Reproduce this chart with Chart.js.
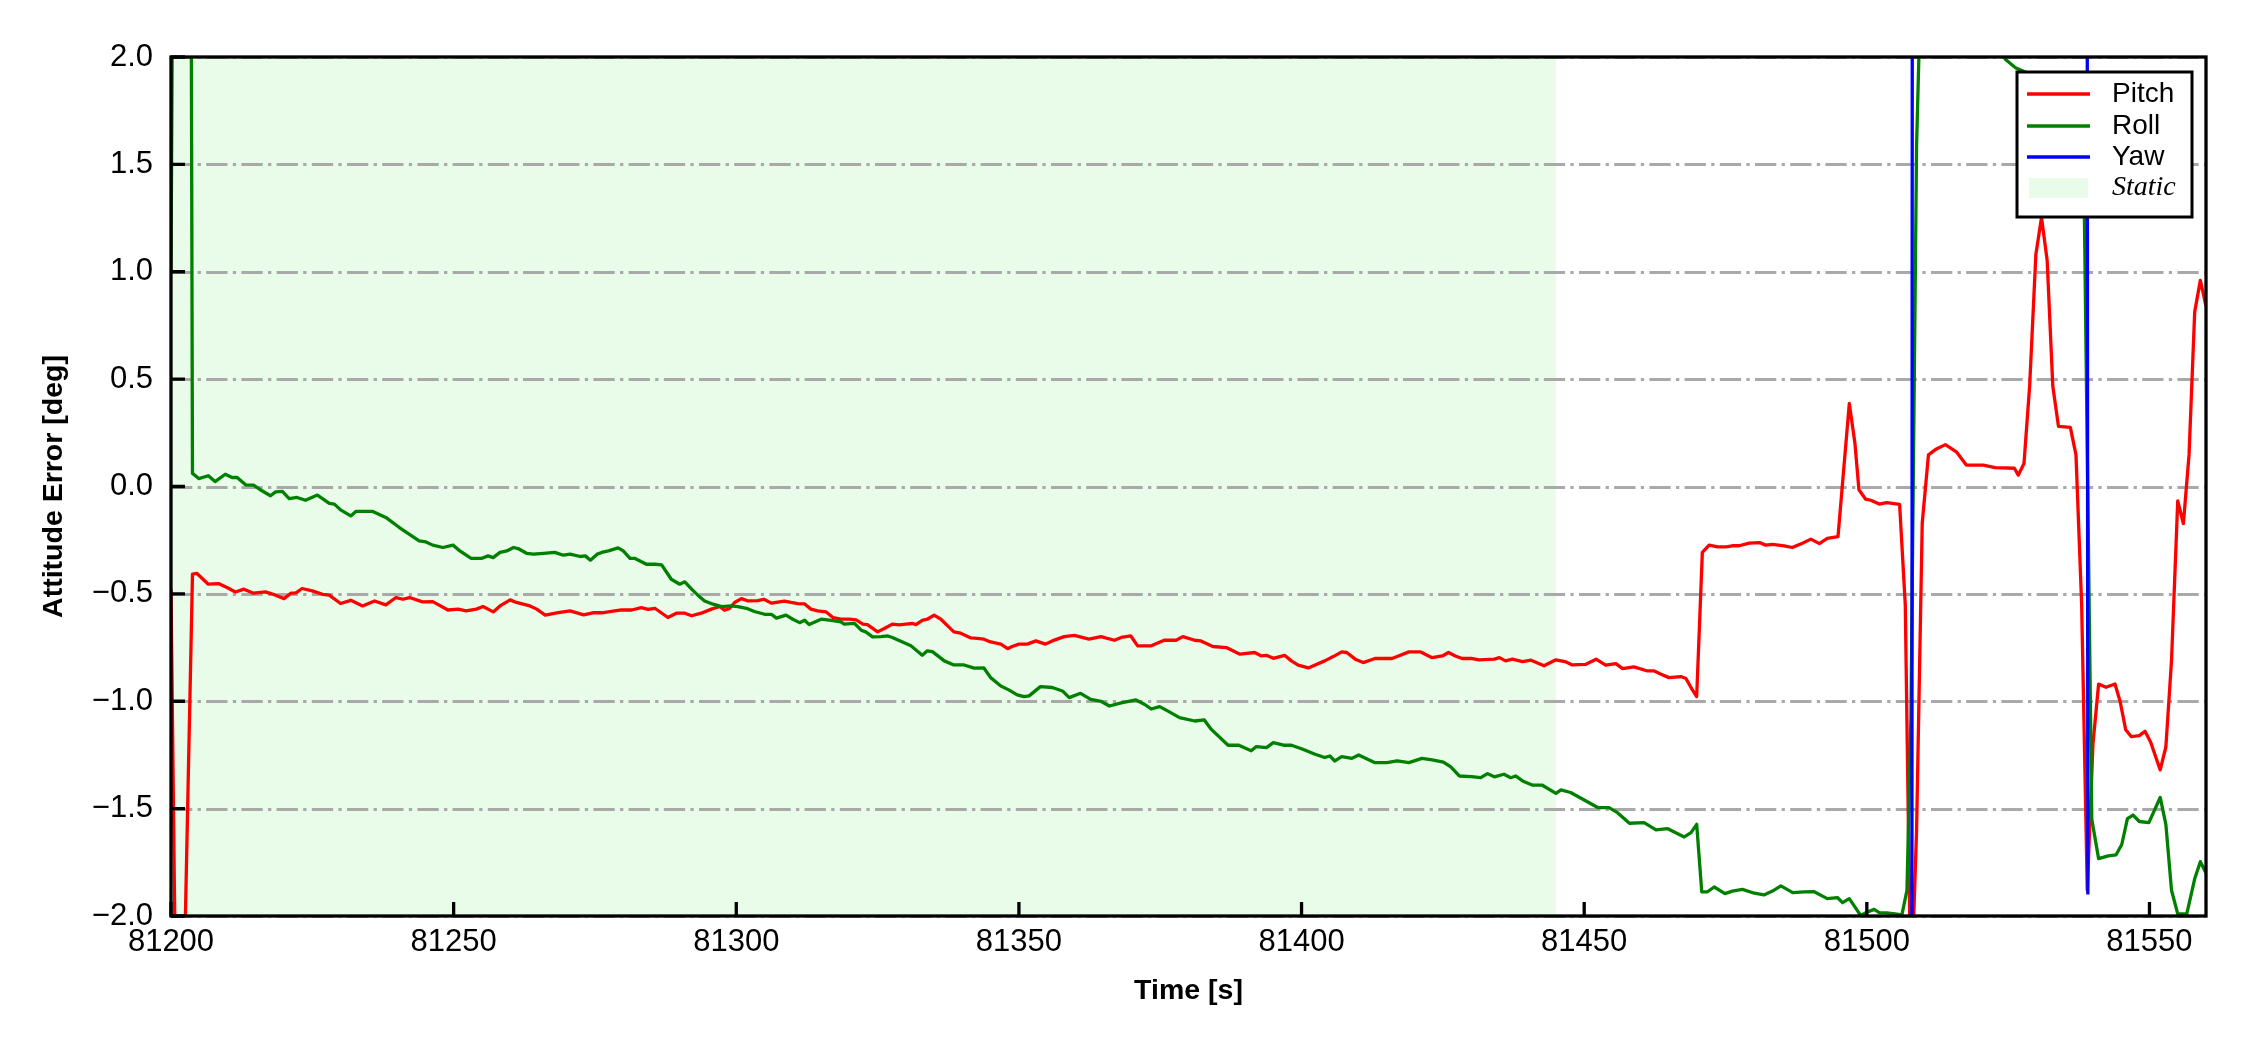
<!DOCTYPE html>
<html>
<head>
<meta charset="utf-8">
<title>Attitude Error</title>
<script src="https://cdn.jsdelivr.net/npm/chart.js@4.4.1/dist/chart.umd.min.js"></script>
<style>
  html, body { margin: 0; padding: 0; background: #fff; }
  #wrap { width: 2250px; height: 1050px; position: relative; }
</style>
</head>
<body>
<div id="wrap"><canvas id="attitudeChart"></canvas></div>
<script>
// time [s], error [deg]
const pitch = [
  [81200.0, -0.48], [81201.0, -2.8], [81202.0, -2.7], [81203.8, -0.408], [81204.6, -0.405], [81205.2, -0.42],
  [81206.6, -0.455], [81208.4, -0.452], [81209.9, -0.47], [81211.4, -0.491], [81212.9, -0.478], [81214.6, -0.497],
  [81216.7, -0.491], [81218.5, -0.506], [81220.0, -0.522], [81221.2, -0.497], [81222.1, -0.495], [81223.2, -0.475],
  [81225.0, -0.486], [81226.8, -0.502], [81228.0, -0.506], [81230.0, -0.545], [81231.8, -0.53], [81233.9, -0.556],
  [81236.0, -0.533], [81238.0, -0.551], [81239.8, -0.517], [81241.0, -0.525], [81242.2, -0.517], [81244.5, -0.537],
  [81246.3, -0.536], [81249.0, -0.575], [81250.8, -0.571], [81252.2, -0.579], [81254.0, -0.571], [81255.2, -0.559],
  [81257.0, -0.584], [81258.2, -0.556], [81260.0, -0.528], [81261.1, -0.54], [81263.5, -0.556], [81264.7, -0.571],
  [81266.2, -0.599], [81268.5, -0.587], [81270.6, -0.579], [81273.0, -0.598], [81274.8, -0.587], [81276.2, -0.588],
  [81277.9, -0.582], [81279.7, -0.575], [81281.5, -0.575], [81283.2, -0.564], [81284.4, -0.572], [81285.6, -0.567],
  [81287.9, -0.61], [81289.4, -0.59], [81290.9, -0.59], [81292.1, -0.602], [81293.8, -0.59], [81295.6, -0.571],
  [81297.1, -0.559], [81297.9, -0.576], [81298.8, -0.568], [81299.7, -0.54], [81300.9, -0.522], [81302.1, -0.533],
  [81303.8, -0.531], [81304.9, -0.525], [81306.2, -0.543], [81308.5, -0.534], [81309.7, -0.54], [81310.9, -0.545],
  [81312.1, -0.547], [81313.2, -0.571], [81314.4, -0.579], [81315.9, -0.584], [81317.1, -0.61], [81318.5, -0.618],
  [81320.0, -0.618], [81321.2, -0.621], [81322.4, -0.641], [81323.2, -0.643], [81325.0, -0.677], [81326.2, -0.661],
  [81327.6, -0.641], [81328.8, -0.644], [81330.0, -0.641], [81331.2, -0.638], [81331.8, -0.643], [81332.9, -0.623],
  [81333.8, -0.618], [81335.0, -0.599], [81336.2, -0.618], [81337.4, -0.649], [81338.5, -0.677], [81339.7, -0.683],
  [81341.5, -0.705], [81342.6, -0.707], [81343.8, -0.711], [81345.0, -0.724], [81346.8, -0.734], [81348.0, -0.755],
  [81348.8, -0.745], [81350.0, -0.734], [81351.5, -0.734], [81353.0, -0.719], [81354.7, -0.734], [81355.9, -0.719],
  [81358.0, -0.699], [81359.8, -0.693], [81362.4, -0.711], [81364.5, -0.699], [81366.9, -0.716], [81368.1, -0.703],
  [81369.8, -0.696], [81371.0, -0.742], [81373.4, -0.742], [81375.7, -0.716], [81377.8, -0.716], [81379.0, -0.699],
  [81381.1, -0.716], [81382.2, -0.719], [81384.3, -0.745], [81386.7, -0.75], [81389.1, -0.781], [81391.7, -0.773],
  [81392.9, -0.789], [81393.8, -0.786], [81395.0, -0.8], [81397.0, -0.786], [81398.2, -0.812], [81399.4, -0.832],
  [81401.2, -0.845], [81402.7, -0.828], [81404.1, -0.812], [81405.6, -0.792], [81407.1, -0.77], [81408.0, -0.773],
  [81409.5, -0.804], [81410.9, -0.82], [81413.0, -0.801], [81416.0, -0.801], [81416.9, -0.792], [81419.0, -0.77],
  [81421.0, -0.77], [81423.1, -0.797], [81424.9, -0.789], [81426.0, -0.773], [81427.2, -0.789], [81428.4, -0.801],
  [81430.0, -0.8], [81431.4, -0.807], [81434.1, -0.804], [81435.0, -0.797], [81436.1, -0.812], [81437.3, -0.804],
  [81439.1, -0.815], [81440.6, -0.809], [81442.9, -0.835], [81445.0, -0.807], [81446.8, -0.817], [81447.9, -0.831],
  [81450.3, -0.828], [81452.1, -0.804], [81453.8, -0.832], [81455.6, -0.825], [81456.8, -0.848], [81458.8, -0.84],
  [81461.2, -0.859], [81462.4, -0.859], [81463.6, -0.874], [81465.0, -0.89], [81467.1, -0.885], [81468.0, -0.894],
  [81468.9, -0.936], [81469.9, -0.978], [81470.9, -0.307], [81472.1, -0.273], [81473.6, -0.281], [81475.1, -0.281],
  [81476.2, -0.276], [81477.4, -0.276], [81479.2, -0.264], [81481.0, -0.261], [81482.1, -0.273], [81483.3, -0.269],
  [81485.4, -0.276], [81486.8, -0.284], [81488.6, -0.264], [81490.1, -0.245], [81491.6, -0.266], [81493.0, -0.242],
  [81494.9, -0.233], [81496.9, 0.387], [81497.9, 0.2], [81498.6, -0.015], [81499.8, -0.059], [81500.7, -0.064],
  [81502.2, -0.082], [81503.5, -0.075], [81505.8, -0.083], [81506.8, -0.55], [81507.8, -2.4], [81508.8, -1.6],
  [81509.8, -0.17], [81510.9, 0.147], [81512.2, 0.173], [81513.9, 0.195], [81515.9, 0.16], [81517.6, 0.1],
  [81520.6, 0.1], [81522.7, 0.088], [81526.1, 0.085], [81526.8, 0.053], [81527.8, 0.107], [81528.8, 0.467],
  [81529.9, 1.08], [81530.9, 1.253], [81531.9, 1.053], [81532.9, 0.467], [81533.9, 0.28], [81536.0, 0.275],
  [81537.0, 0.147], [81538.0, -0.547], [81539.0, -1.88], [81540.0, -1.2], [81541.0, -0.92], [81542.3, -0.935],
  [81543.9, -0.92], [81544.8, -1.0], [81545.8, -1.133], [81546.8, -1.165], [81548.2, -1.16], [81549.2, -1.14],
  [81550.2, -1.19], [81551.9, -1.32], [81552.9, -1.213], [81553.9, -0.81], [81555.0, -0.067], [81556.0, -0.173],
  [81557.0, 0.147], [81558.0, 0.813], [81559.0, 0.96], [81560.0, 0.84]
];

const roll = [
  [81200.0, 1.0], [81201.0, 6.0], [81202.0, 7.0], [81203.0, 8.0], [81203.8, 0.06], [81204.0, 0.057],
  [81204.9, 0.037], [81206.6, 0.05], [81207.8, 0.023], [81209.6, 0.057], [81210.8, 0.042], [81211.7, 0.042],
  [81213.2, 0.008], [81214.6, 0.006], [81216.1, -0.02], [81217.6, -0.043], [81218.5, -0.025], [81219.7, -0.023],
  [81220.9, -0.056], [81222.3, -0.051], [81223.8, -0.064], [81225.9, -0.04], [81228.0, -0.079], [81228.9, -0.082],
  [81230.0, -0.109], [81231.8, -0.137], [81232.7, -0.116], [81235.7, -0.116], [81238.0, -0.144], [81240.4, -0.191],
  [81243.9, -0.253], [81245.1, -0.258], [81246.3, -0.273], [81248.1, -0.284], [81249.9, -0.273], [81251.1, -0.3],
  [81253.1, -0.335], [81254.9, -0.335], [81256.1, -0.323], [81257.0, -0.331], [81258.2, -0.307], [81259.4, -0.3],
  [81260.6, -0.284], [81261.4, -0.289], [81262.9, -0.311], [81264.1, -0.315], [81265.9, -0.311], [81267.9, -0.307],
  [81269.4, -0.32], [81270.6, -0.315], [81272.4, -0.326], [81273.3, -0.323], [81274.2, -0.343], [81275.4, -0.315],
  [81276.2, -0.307], [81277.4, -0.3], [81279.1, -0.286], [81280.0, -0.3], [81281.2, -0.335], [81282.1, -0.335],
  [81284.1, -0.362], [81285.6, -0.362], [81286.8, -0.365], [81288.5, -0.432], [81290.0, -0.455], [81290.9, -0.444],
  [81292.1, -0.478], [81293.2, -0.506], [81294.4, -0.533], [81295.9, -0.548], [81297.4, -0.559], [81299.1, -0.556],
  [81300.3, -0.559], [81301.8, -0.567], [81303.2, -0.582], [81305.0, -0.595], [81306.2, -0.595], [81307.1, -0.613],
  [81308.8, -0.599], [81310.0, -0.618], [81311.2, -0.634], [81312.1, -0.623], [81312.9, -0.643], [81315.0, -0.618],
  [81316.8, -0.623], [81318.5, -0.63], [81319.1, -0.641], [81320.9, -0.637], [81322.1, -0.669], [81322.9, -0.677],
  [81324.1, -0.7], [81325.6, -0.699], [81326.8, -0.696], [81327.6, -0.703], [81329.4, -0.724], [81330.9, -0.742],
  [81332.9, -0.786], [81333.8, -0.765], [81334.7, -0.769], [81336.8, -0.812], [81338.5, -0.831], [81340.3, -0.831],
  [81342.1, -0.846], [81343.8, -0.845], [81345.0, -0.89], [81346.8, -0.929], [81348.2, -0.947], [81349.7, -0.97],
  [81350.9, -0.978], [81351.8, -0.975], [81353.8, -0.932], [81355.9, -0.936], [81357.7, -0.952], [81358.9, -0.983],
  [81360.9, -0.963], [81362.7, -0.991], [81364.5, -1.0], [81366.0, -1.022], [81368.1, -1.008], [81370.7, -0.994],
  [81372.2, -1.014], [81373.4, -1.036], [81374.9, -1.025], [81376.3, -1.045], [81378.4, -1.076], [81381.1, -1.092],
  [81382.8, -1.087], [81384.0, -1.13], [81387.0, -1.205], [81388.8, -1.204], [81391.1, -1.231], [81392.0, -1.211],
  [81393.8, -1.216], [81395.0, -1.193], [81397.0, -1.205], [81398.2, -1.205], [81400.0, -1.221], [81402.4, -1.247],
  [81404.1, -1.262], [81405.0, -1.255], [81405.9, -1.278], [81407.1, -1.258], [81408.9, -1.266], [81410.1, -1.25],
  [81413.0, -1.286], [81415.1, -1.286], [81416.9, -1.278], [81419.0, -1.286], [81421.3, -1.266], [81423.1, -1.273],
  [81425.1, -1.283], [81426.4, -1.306], [81427.9, -1.348], [81430.0, -1.351], [81431.7, -1.356], [81432.9, -1.337],
  [81434.1, -1.352], [81435.8, -1.34], [81437.0, -1.356], [81437.9, -1.348], [81439.1, -1.371], [81440.9, -1.391],
  [81442.6, -1.391], [81445.0, -1.429], [81445.9, -1.413], [81447.6, -1.425], [81450.0, -1.46], [81452.4, -1.495],
  [81454.4, -1.495], [81455.9, -1.519], [81458.0, -1.568], [81460.6, -1.565], [81462.7, -1.599], [81464.7, -1.593],
  [81467.7, -1.632], [81468.9, -1.612], [81469.9, -1.573], [81470.8, -1.888], [81471.8, -1.887], [81473.0, -1.865],
  [81474.9, -1.896], [81476.2, -1.884], [81478.0, -1.876], [81480.1, -1.894], [81481.8, -1.902], [81483.3, -1.884],
  [81484.8, -1.86], [81486.9, -1.891], [81488.9, -1.888], [81490.7, -1.887], [81493.0, -1.919], [81494.8, -1.914],
  [81495.7, -1.938], [81496.9, -1.919], [81498.9, -1.997], [81500.1, -1.981], [81501.3, -1.969], [81502.2, -1.984],
  [81503.5, -1.985], [81505.0, -1.99], [81506.2, -1.995], [81507.1, -1.88], [81507.8, -1.08], [81508.8, 1.587],
  [81509.8, 2.6], [81512.0, 2.8], [81516.0, 2.6], [81520.0, 2.3], [81523.0, 2.05], [81524.5, 1.99],
  [81526.3, 1.95], [81528.0, 1.93], [81530.0, 1.9], [81532.0, 1.9], [81534.0, 1.88], [81535.5, 1.88],
  [81536.5, 1.86], [81537.5, 1.87], [81538.2, 1.87], [81539.8, -1.55], [81541.0, -1.733], [81542.7, -1.72],
  [81544.1, -1.715], [81545.1, -1.667], [81546.1, -1.547], [81547.1, -1.53], [81548.2, -1.56], [81549.9, -1.565],
  [81551.9, -1.448], [81552.9, -1.573], [81553.9, -1.88], [81555.0, -1.99], [81556.6, -1.99], [81558.0, -1.827],
  [81559.0, -1.747], [81560.0, -1.8]
];

// yaw stays outside the +-2 deg window except for two wrap-arounds
const yaw = [
  [81200.0, -6.2], [81300.0, -6.5], [81400.0, -6.9], [81507.9, -7.1], [81508.1, 6.4],
  [81520.0, 6.1], [81538.9, 5.8], [81539.1, -1.9]
];

const seriesNames = ['Pitch', 'Roll', 'Yaw'];
const seriesColors = ['#ff0000', '#008000', '#0000ff'];
const staticSpan = [81200, 81445];
const staticLabel = 'Static';
const xRange = [81200, 81560];
const yRange = [-2, 2];

const SANS = "'Liberation Sans', Arial, sans-serif";
const SERIF = "'Liberation Serif', 'Times New Roman', serif";
const STATIC_FILL = 'rgba(144, 238, 144, 0.2)';
const LW = 3.3;

function minusFmt(v) {
  const s = Math.abs(v).toFixed(1);
  return v < 0 ? '\u2212' + s : s;
}

// static band + dash-dot grid, drawn under the lines
const backdrop = {
  id: 'backdrop',
  beforeDatasetsDraw(chart) {
    const { ctx, chartArea: a, scales: { x, y } } = chart;
    ctx.save();
    const x0 = x.getPixelForValue(staticSpan[0]);
    const x1 = x.getPixelForValue(staticSpan[1]);
    ctx.fillStyle = STATIC_FILL;
    ctx.fillRect(x0, a.top, x1 - x0, a.bottom - a.top);

    ctx.strokeStyle = '#a9a9a9';
    ctx.lineWidth = 3;
    ctx.setLineDash([21.3, 5.3, 3.3, 5.3]);
    y.ticks.forEach(t => {
      const py = Math.round(y.getPixelForValue(t.value)) + 0.5;
      ctx.beginPath();
      ctx.moveTo(a.left, py);
      ctx.lineTo(a.right, py);
      ctx.stroke();
    });
    ctx.restore();
  },
  afterDatasetsDraw(chart) {
    const { ctx, chartArea: a, scales: { x, y } } = chart;
    ctx.save();
    ctx.strokeStyle = '#000';
    ctx.lineWidth = LW;
    // inward ticks, left and bottom
    ctx.beginPath();
    y.ticks.forEach(t => {
      const py = y.getPixelForValue(t.value);
      ctx.moveTo(a.left, py);
      ctx.lineTo(a.left + 14, py);
    });
    x.ticks.forEach(t => {
      const px = x.getPixelForValue(t.value);
      ctx.moveTo(px, a.bottom);
      ctx.lineTo(px, a.bottom - 14);
    });
    ctx.stroke();
    ctx.strokeRect(a.left, a.top, a.right - a.left, a.bottom - a.top);
    ctx.restore();
  },
  afterDraw(chart) {
    const { ctx, chartArea: a } = chart;
    const w = 175, h = 145;
    const left = a.right - 14 - w;
    const top = a.top + 15;
    ctx.save();
    ctx.fillStyle = '#fff';
    ctx.fillRect(left, top, w, h);
    ctx.strokeStyle = '#000';
    ctx.lineWidth = 3;
    ctx.strokeRect(left, top, w, h);

    const rows = [22, 54, 85, 116];
    ctx.textBaseline = 'middle';
    ctx.textAlign = 'left';
    seriesNames.forEach((name, i) => {
      const ry = top + rows[i];
      ctx.strokeStyle = seriesColors[i];
      ctx.lineWidth = LW;
      ctx.beginPath();
      ctx.moveTo(left + 10, ry);
      ctx.lineTo(left + 73, ry);
      ctx.stroke();
      ctx.fillStyle = '#000';
      ctx.font = '28px ' + SANS;
      ctx.fillText(name, left + 95, ry);
    });
    const sy = top + rows[3];
    ctx.fillStyle = STATIC_FILL;
    ctx.fillRect(left + 12, sy - 10, 59, 20);
    ctx.fillStyle = '#000';
    ctx.font = 'italic 28px ' + SERIF;
    ctx.fillText(staticLabel, left + 95, sy);
    ctx.restore();
  }
};

document.addEventListener('DOMContentLoaded', function () {
  const ctx = document.getElementById('attitudeChart').getContext('2d');
  const series = [pitch, roll, yaw];

  const datasets = series.map((pts, i) => ({
    label: seriesNames[i],
    data: pts.map(p => ({ x: p[0], y: p[1] })),
    borderColor: seriesColors[i],
    borderWidth: LW,
    pointRadius: 0,
    tension: 0,
    fill: false,
    clip: 0,
    order: 3 - i
  }));

  new Chart(ctx, {
    type: 'line',
    data: { datasets: datasets },
    options: {
      responsive: true,
      maintainAspectRatio: false,
      animation: false,
      events: [],
      layout: { padding: { top: 57, right: 44, bottom: 0, left: 0 } },
      elements: { line: { borderJoinStyle: 'round' } },
      plugins: {
        legend: { display: false },
        tooltip: { enabled: false }
      },
      scales: {
        x: {
          type: 'linear',
          min: xRange[0],
          max: xRange[1],
          afterFit: s => { s.height = 134; },
          grid: { display: false, drawTicks: false },
          border: { display: false },
          ticks: {
            stepSize: 50,
            includeBounds: false,
            autoSkip: false,
            maxRotation: 0,
            padding: 8,
            color: '#000',
            font: { family: SANS, size: 31 },
            callback: v => String(v)
          },
          title: {
            display: true,
            text: 'Time [s]',
            color: '#000',
            font: { family: SANS, size: 28.5, weight: 'bold' },
            padding: { top: 0, bottom: 42 }
          }
        },
        y: {
          type: 'linear',
          min: yRange[0],
          max: yRange[1],
          afterFit: s => { s.width = 171; },
          grid: { display: false, drawTicks: false },
          border: { display: false },
          ticks: {
            stepSize: 0.5,
            padding: 18,
            color: '#000',
            font: { family: SANS, size: 31 },
            callback: v => minusFmt(v)
          },
          title: {
            display: true,
            text: 'Attitude Error [deg]',
            color: '#000',
            font: { family: SANS, size: 28.5, weight: 'bold' },
            padding: { top: 37, bottom: 0 }
          }
        }
      }
    },
    plugins: [backdrop]
  });
});
</script>
</body>
</html>
